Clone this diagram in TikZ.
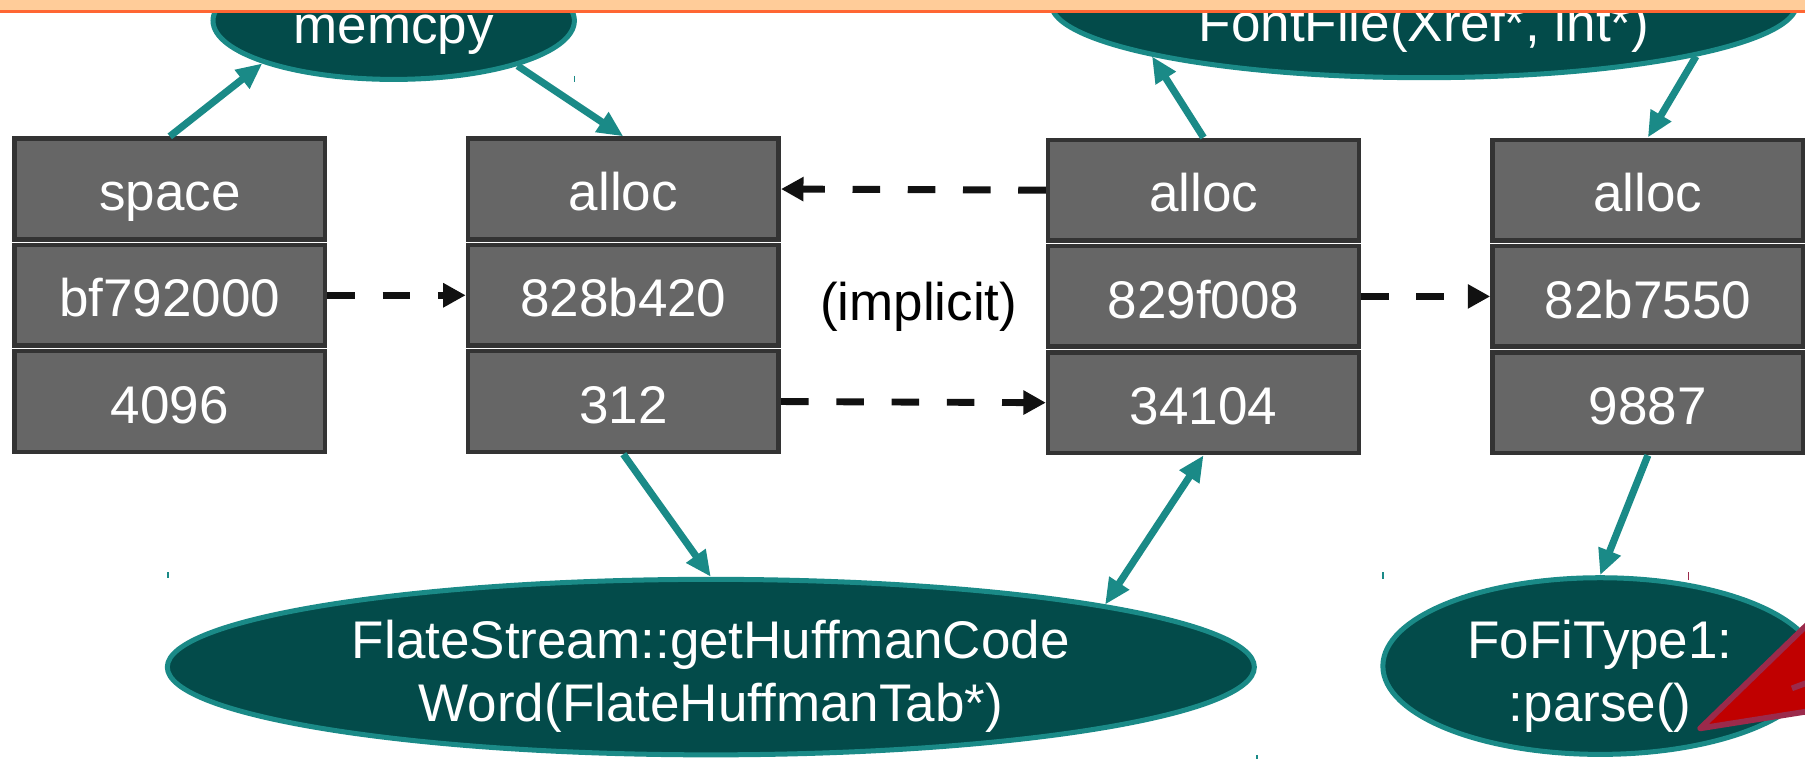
\documentclass[tikz,border=0pt]{standalone}
\usepackage{fontspec}
\setmainfont{Liberation Sans}
\usetikzlibrary{arrows.meta,shapes.geometric}
\definecolor{boxfill}{HTML}{666666}
\definecolor{boxline}{HTML}{333333}
\definecolor{callfill}{HTML}{034B4A}
\definecolor{tealc}{HTML}{1A8A87}
\definecolor{bandpeach}{HTML}{FFCC99}
\definecolor{bandline}{HTML}{FF6633}
\definecolor{warnred}{HTML}{C00000}
\definecolor{warnedge}{HTML}{9B2A4B}
\definecolor{dashink}{HTML}{111111}
\newcommand\diagfont{\fontsize{26.2pt}{31.5pt}\selectfont}
\tikzset{
  cell/.style={rectangle, draw=boxline, fill=boxfill, line width=0.08cm,
    minimum width=5.4cm, minimum height=1.75cm, inner sep=0pt,
    text=white, text height=0.752cm, text depth=0pt, font=\diagfont},
  call/.style={ellipse, draw=tealc, fill=callfill, line width=0.087cm, inner sep=0pt},
  calltext/.style={text=white, font=\diagfont, inner sep=0pt},
  link/.style={draw=tealc, line width=0.124cm, -{Triangle[length=0.45cm,width=0.39cm]}},
  biglink/.style={draw=tealc, line width=0.124cm,
    {Triangle[length=0.45cm,width=0.39cm]}-{Triangle[length=0.45cm,width=0.39cm]}},
  ptr/.style={draw=dashink, line width=0.12cm, dash pattern=on 0.48cm off 0.48cm,
    -{Triangle[length=0.39cm,width=0.4cm]}},
  speck/.style={line width=0.03cm}
}
\begin{document}
\begin{tikzpicture}[x=0.02cm, y=-0.02cm]
\useasboundingbox (0,0) rectangle (1568,659);
\clip (0,0) rectangle (1568,659);

% call-site ellipses
\node[call, minimum width=6.28cm, minimum height=2.04cm] (memcpy) at (342,18) {};
\node[calltext, anchor=base] (memcpy-t) at (342,37.6) {memcpy};
\node[call, minimum width=12.96cm, minimum height=2.58cm] (fontfile) at (1237,3) {};
\node[calltext, anchor=base] (fontfile-t) at (1237,36.2) {FontFile(Xref*, int*)};
\node[call, minimum width=18.89cm, minimum height=3.05cm] (flate) at (617.5,579.5) {};
\node[calltext, align=center] (flate-t) at (617.5,587.6) {FlateStream::getHuffmanCode\\Word(FlateHuffmanTab*)};
\node[call, minimum width=7.55cm, minimum height=3.07cm] (fofi) at (1390,578.6) {};
\node[calltext, align=center] (fofi-t) at (1390,587.6) {FoFiType1:\\:parse()};

% memory records: kind / address / size
\node[cell] (b1r1) at (147.5,164.2) {space};
\node[cell] (b1r2) at (147.5,256.5) {bf792000};
\node[cell] (b1r3) at (147.5,348.8) {4096};
\node[cell] (b2r1) at (541.5,164.2) {alloc};
\node[cell] (b2r2) at (541.5,256.5) {828b420};
\node[cell] (b2r3) at (541.5,348.8) {312};
\node[cell] (b3r1) at (1045.5,165.2) {alloc};
\node[cell] (b3r2) at (1045.5,257.5) {829f008};
\node[cell] (b3r3) at (1045.5,349.8) {34104};
\node[cell] (b4r1) at (1431.5,165.2) {alloc};
\node[cell] (b4r2) at (1431.5,257.5) {82b7550};
\node[cell] (b4r3) at (1431.5,349.8) {9887};

\node[font=\diagfont, anchor=base, inner sep=0pt] (implicit) at (798,278) {(implicit)};

% data flow through the call sites
\draw[link] (b1r1.north) -- (memcpy.198.2);
\draw[link] (memcpy.340.5) -- (b2r1.north);
\draw[link] (b3r1.north) -- (fontfile.191.2);
\draw[link] (fontfile.349.2) -- (b4r1.north);
\draw[link] (b2r3.south) -- (flate.north);
\draw[biglink] (b3r3.south) -- (flate.9.56);
\draw[link] (b4r3.south) -- (fofi.north);

% pointer relations between records
\draw[ptr] (b1r2.east) -- (b2r2.west);
\draw[ptr] (b3r1.west) -- (b2r1.east);
\draw[ptr] (b2r3.east) -- (b3r3.west);
\draw[ptr] (b3r2.east) -- (b4r2.west);

% small marks
\draw[speck, tealc] (499,66) -- (499,71);
\draw[speck, tealc] (146,497) -- (146,502);
\draw[speck, tealc] (1201.7,497) -- (1201.7,503);
\draw[speck, tealc] (1092,656) -- (1092,659);
\draw[speck, warnedge] (1466.7,497) -- (1466.7,504);

% highlight arrow
\filldraw[fill=warnred, draw=warnedge, line width=0.1cm, line join=round]
  (1477,632.7) -- (1610,503.8) -- (1610,611.7) -- cycle;
\draw[warnedge, line width=0.1cm] (1556.6,598) -- (1610,578);

% header band
\fill[bandpeach] (0,0) rectangle (1568,8.7);
\fill[bandline] (0,8.7) rectangle (1568,11.5);
\end{tikzpicture}
\end{document}
